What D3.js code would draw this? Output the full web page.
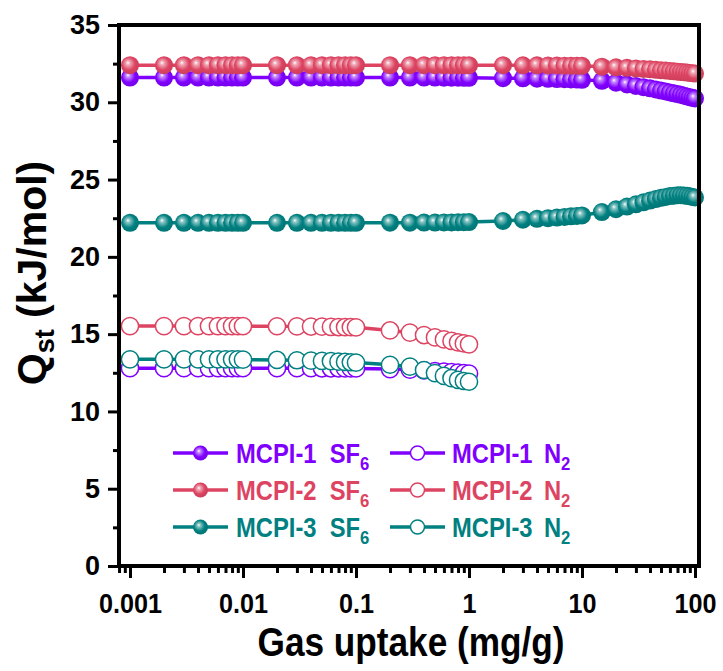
<!DOCTYPE html>
<html>
<head>
<meta charset="utf-8">
<script src="https://cdn.jsdelivr.net/npm/d3@7"></script>
<style>
  body { margin: 0; background: #fff; }
  text { font-family: "Liberation Sans", Arial, sans-serif; font-weight: bold; }
</style>
</head>
<body>
<div id="container"></div>
<script>
const WIDTH = 723,
  HEIGHT = 671,
  LEFT = 119, RIGHT = 699, TOP = 25, BOTTOM = 566;

// gas uptake (mg/g) at which Qst was evaluated
const sf6Uptake = [
  0.001, 0.002, 0.003, 0.004, 0.005, 0.006, 0.007, 0.008, 0.009,
  0.01, 0.02, 0.03, 0.04, 0.05, 0.06, 0.07, 0.08, 0.09,
  0.1, 0.2, 0.3, 0.4, 0.5, 0.6, 0.7, 0.8, 0.9,
  1, 2, 3, 4, 5, 6, 7, 8, 9,
  10, 15, 20, 25, 30, 35, 40, 45, 50, 55, 60, 65, 70, 75, 80, 85, 90, 95, 100
];
const n2Uptake = [
  0.001, 0.002, 0.003, 0.004, 0.005, 0.006, 0.007, 0.008, 0.009,
  0.01, 0.02, 0.03, 0.04, 0.05, 0.06, 0.07, 0.08, 0.09,
  0.1, 0.2, 0.3, 0.4, 0.5, 0.6, 0.7, 0.8, 0.9,
  1
];

// Qst (kJ/mol)
const mcpi1Sf6 = [
  31.6, 31.6, 31.6, 31.6, 31.6, 31.6, 31.6, 31.6, 31.6,
  31.6, 31.6, 31.6, 31.6, 31.6, 31.6, 31.6, 31.6, 31.6,
  31.6, 31.6, 31.6, 31.6, 31.6, 31.59, 31.59, 31.59, 31.58,
  31.58, 31.56, 31.55, 31.53, 31.52, 31.5, 31.49, 31.48, 31.47,
  31.45, 31.39, 31.27, 31.15, 31.06, 30.98, 30.9, 30.83, 30.76, 30.7, 30.64, 30.58, 30.53, 30.48, 30.43, 30.38, 30.33, 30.29, 30.25
];
const mcpi2Sf6 = [
  32.4, 32.4, 32.4, 32.4, 32.4, 32.4, 32.4, 32.4, 32.4,
  32.4, 32.4, 32.4, 32.4, 32.4, 32.4, 32.4, 32.4, 32.4,
  32.4, 32.4, 32.4, 32.4, 32.4, 32.4, 32.4, 32.4, 32.4,
  32.4, 32.4, 32.39, 32.39, 32.38, 32.38, 32.37, 32.37, 32.36,
  32.36, 32.3, 32.26, 32.23, 32.19, 32.16, 32.13, 32.1, 32.07, 32.05, 32.03, 32.0, 31.98, 31.96, 31.94, 31.92, 31.9, 31.88, 31.86
];
const mcpi3Sf6 = [
  22.2, 22.2, 22.2, 22.2, 22.2, 22.2, 22.2, 22.2, 22.2,
  22.2, 22.2, 22.2, 22.2, 22.2, 22.2, 22.2, 22.2, 22.2,
  22.2, 22.21, 22.21, 22.22, 22.22, 22.23, 22.23, 22.24, 22.24,
  22.25, 22.32, 22.4, 22.46, 22.5, 22.54, 22.58, 22.62, 22.65,
  22.68, 22.9, 23.08, 23.25, 23.4, 23.53, 23.64, 23.74, 23.82, 23.88, 23.93, 23.96, 23.98, 23.98, 23.97, 23.95, 23.92, 23.88, 23.84
];
const mcpi1N2 = [
  12.8, 12.8, 12.8, 12.8, 12.8, 12.8, 12.8, 12.8, 12.8,
  12.8, 12.8, 12.8, 12.8, 12.79, 12.79, 12.79, 12.78, 12.78,
  12.78, 12.74, 12.7, 12.65, 12.61, 12.57, 12.54, 12.51, 12.48,
  12.45
];
const mcpi2N2 = [
  15.52, 15.52, 15.52, 15.52, 15.52, 15.52, 15.52, 15.52, 15.52,
  15.52, 15.51, 15.5, 15.49, 15.48, 15.47, 15.46, 15.45, 15.45,
  15.44, 15.24, 15.1, 14.94, 14.79, 14.66, 14.56, 14.47, 14.4,
  14.34
];
const mcpi3N2 = [
  13.37, 13.37, 13.37, 13.37, 13.37, 13.37, 13.37, 13.37, 13.37,
  13.35, 13.33, 13.31, 13.29, 13.27, 13.25, 13.22, 13.2, 13.18,
  13.16, 13.02, 12.9, 12.68, 12.48, 12.3, 12.15, 12.04, 11.97,
  11.92
];

const materials = ["MCPI-1", "MCPI-2", "MCPI-3"];
const colors = ["#8000ff", "#dd4462", "#008080"];
const xMajorTicks = [0.001, 0.01, 0.1, 1, 10, 100];
const xTickLabels = ["0.001", "0.01", "0.1", "1", "10", "100"];
const xMinorTicks = [
  0.0008, 0.0009,
  0.002, 0.003, 0.004, 0.005, 0.006, 0.007, 0.008, 0.009,
  0.02, 0.03, 0.04, 0.05, 0.06, 0.07, 0.08, 0.09,
  0.2, 0.3, 0.4, 0.5, 0.6, 0.7, 0.8, 0.9,
  2, 3, 4, 5, 6, 7, 8, 9,
  20, 30, 40, 50, 60, 70, 80, 90
];
const yMajorTicks = [0, 5, 10, 15, 20, 25, 30, 35];
const yMinorTicks = [2.5, 7.5, 12.5, 17.5, 22.5, 27.5, 32.5];

const series = [
  { mat: 0, gas: "SF6", filled: true, x: sf6Uptake, y: mcpi1Sf6 },
  { mat: 1, gas: "SF6", filled: true, x: sf6Uptake, y: mcpi2Sf6 },
  { mat: 2, gas: "SF6", filled: true, x: sf6Uptake, y: mcpi3Sf6 },
  { mat: 0, gas: "N2", filled: false, x: n2Uptake, y: mcpi1N2 },
  { mat: 1, gas: "N2", filled: false, x: n2Uptake, y: mcpi2N2 },
  { mat: 2, gas: "N2", filled: false, x: n2Uptake, y: mcpi3N2 }
];

const svg = d3.select("#container")
  .append("svg")
  .attr("width", WIDTH)
  .attr("height", HEIGHT);

// sphere-looking gradients for the filled symbols
const defs = svg.append("defs");
colors.forEach((c, i) => {
  const g = defs.append("radialGradient")
    .attr("id", "ball" + i)
    .attr("cx", 0.45).attr("cy", 0.45).attr("r", 0.6)
    .attr("fx", 0.38).attr("fy", 0.36);
  g.append("stop").attr("offset", 0).attr("stop-color", "#ffffff");
  g.append("stop").attr("offset", 0.18).attr("stop-color", d3.interpolateRgb(c, "#fff")(0.55));
  g.append("stop").attr("offset", 0.6).attr("stop-color", c);
  g.append("stop").attr("offset", 1).attr("stop-color", d3.color(c).darker(0.3));
});

// Scales
const xScale = d3.scaleLog()
  .domain([0.0007993, 108.5])
  .range([LEFT, RIGHT]);

const yScale = d3.scaleLinear()
  .domain([0, 35])
  .range([BOTTOM, TOP]);

const line = d3.line()
  .x(d => xScale(d[0]))
  .y(d => yScale(d[1]));

// series
series.forEach(s => {
  const pts = s.x.map((v, i) => [v, s.y[i]]);
  const g = svg.append("g");
  g.append("path")
    .attr("d", line(pts))
    .attr("fill", "none")
    .attr("stroke", colors[s.mat])
    .attr("stroke-width", 3.5);
  g.selectAll("circle")
    .data(pts)
    .join("circle")
    .attr("cx", d => xScale(d[0]))
    .attr("cy", d => yScale(d[1]))
    .attr("r", s.filled ? 9 : 8.6)
    .attr("fill", s.filled ? `url(#ball${s.mat})` : "#fff")
    .attr("stroke", s.filled ? "none" : colors[s.mat])
    .attr("stroke-width", 1.5);
});

// Axes
function styleAxis(g) {
  g.select(".domain").remove();
  g.selectAll(".tick line").attr("stroke", "#000").attr("stroke-width", 3);
}

svg.append("g")
  .attr("transform", `translate(0,${BOTTOM})`)
  .call(d3.axisBottom(xScale).tickValues(xMinorTicks).tickSize(7).tickFormat(""))
  .call(styleAxis);

svg.append("g")
  .attr("class", "x-axis")
  .attr("transform", `translate(0,${BOTTOM})`)
  .call(d3.axisBottom(xScale).tickValues(xMajorTicks).tickSize(12).tickPadding(15)
    .tickFormat((d, i) => xTickLabels[i]))
  .call(styleAxis)
  .call(g => g.selectAll("text")
    .attr("font-size", 28).attr("font-family", null).attr("fill", "#000")
    .attr("transform", "scale(0.9,1)"));

svg.append("g")
  .attr("transform", `translate(${LEFT},0)`)
  .call(d3.axisLeft(yScale).tickValues(yMinorTicks).tickSize(6).tickFormat(""))
  .call(styleAxis);

svg.append("g")
  .attr("class", "y-axis")
  .attr("transform", `translate(${LEFT},0)`)
  .call(d3.axisLeft(yScale).tickValues(yMajorTicks).tickSize(11).tickPadding(8))
  .call(styleAxis)
  .call(g => g.selectAll("text").attr("font-size", 27).attr("font-family", null).attr("fill", "#000"));

// frame
svg.append("rect")
  .attr("x", LEFT).attr("y", TOP)
  .attr("width", RIGHT - LEFT).attr("height", BOTTOM - TOP)
  .attr("fill", "none")
  .attr("stroke", "#000")
  .attr("stroke-width", 4);

// axis titles
svg.append("text")
  .attr("transform", `translate(${(LEFT + RIGHT) / 2 + 2},656) scale(0.88,1)`)
  .attr("text-anchor", "middle")
  .attr("font-size", 40)
  .text("Gas uptake (mg/g)");

const yTitle = svg.append("text")
  .attr("transform", `translate(46,273) rotate(-90)`)
  .attr("text-anchor", "middle")
  .attr("font-size", 41);
yTitle.append("tspan").text("Q");
yTitle.append("tspan").attr("font-size", 27).attr("dy", 8).text("st");
yTitle.append("tspan").attr("dy", -8).text(" (kJ/mol)");

// legend
const legendRows = [453, 490, 527];
const legendCols = [
  { x0: 173, x1: 228, text: 236, gasDx: 15 },
  { x0: 390, x1: 445, text: 452, gasDx: 13 }
];
series.forEach(s => {
  const col = legendCols[s.filled ? 0 : 1];
  const y = legendRows[s.mat];
  const c = colors[s.mat];
  const g = svg.append("g").attr("class", "legend");
  g.append("line")
    .attr("x1", col.x0).attr("x2", col.x1)
    .attr("y1", y).attr("y2", y)
    .attr("stroke", c).attr("stroke-width", 3.5);
  g.append("circle")
    .attr("cx", (col.x0 + col.x1) / 2).attr("cy", y)
    .attr("r", s.filled ? 7.5 : 7)
    .attr("fill", s.filled ? `url(#ball${s.mat})` : "#fff")
    .attr("stroke", s.filled ? "none" : c)
    .attr("stroke-width", 1.5);
  const t = g.append("text")
    .attr("transform", `translate(${col.text},${y + 10}) scale(0.88,1)`)
    .attr("font-size", 27)
    .attr("fill", c);
  t.append("tspan").text(materials[s.mat]);
  t.append("tspan").attr("dx", col.gasDx).text(s.gas.replace(/\d/, ""));
  t.append("tspan").attr("font-size", 19).attr("dy", 7).text(s.gas.match(/\d/)[0]);
});
</script>
</body>
</html>
